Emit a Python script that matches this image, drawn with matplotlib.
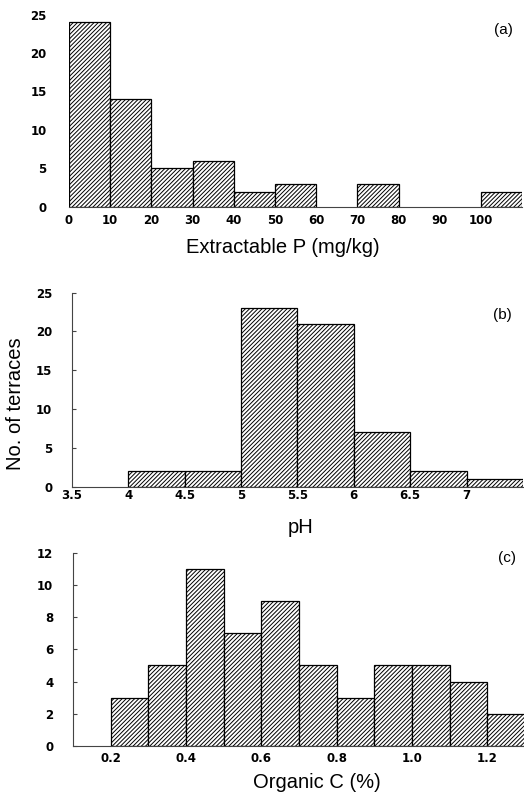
import matplotlib
matplotlib.use("Agg")
import matplotlib.pyplot as plt
import numpy as np

plt.rcParams.update(
    {
        "hatch.linewidth": 0.7,
        "hatch.color": "black",
        "font.family": ["Liberation Sans", "DejaVu Sans"],
    }
)

# (a) extractable P, 10 mg/kg bins
p_edges = [0, 10, 20, 30, 40, 50, 60, 70, 80, 90, 100, 110]
p_counts = [24, 14, 5, 6, 2, 3, 0, 3, 0, 0, 2]
p_ticks = [0, 10, 20, 30, 40, 50, 60, 70, 80, 90, 100]

# (b) pH, 0.5 unit bins
ph_edges = [3.5, 4.0, 4.5, 5.0, 5.5, 6.0, 6.5, 7.0, 7.5]
ph_counts = [0, 2, 2, 23, 21, 7, 2, 1]
ph_ticks = [3.5, 4, 4.5, 5, 5.5, 6, 6.5, 7]
ph_labels = ["3.5", "4", "4.5", "5", "5.5", "6", "6.5", "7"]

# (c) organic C, 0.1 % bins
oc_edges = [0.1, 0.2, 0.3, 0.4, 0.5, 0.6, 0.7, 0.8, 0.9, 1.0, 1.1, 1.2, 1.3]
oc_counts = [0, 3, 5, 11, 7, 9, 5, 3, 5, 5, 4, 2]
oc_ticks = [0.2, 0.4, 0.6, 0.8, 1.0, 1.2]
oc_labels = ["0.2", "0.4", "0.6", "0.8", "1.0", "1.2"]

count_ticks_25 = [0, 5, 10, 15, 20, 25]
count_ticks_12 = [0, 2, 4, 6, 8, 10, 12]

tick_font = dict(family="DejaVu Sans", weight="bold", size=8.5)
label_size = 14.5

fig = plt.figure(figsize=(5.24, 7.93), dpi=100)
ax_a = fig.add_axes([0.1317, 0.739, 0.865, 0.2427])
ax_b = fig.add_axes([0.137, 0.3863, 0.861, 0.2446])
ax_c = fig.add_axes([0.139, 0.0593, 0.8626, 0.2438])


def draw_hist(ax, edges, counts):
    edges = np.asarray(edges, dtype=float)
    counts = np.asarray(counts, dtype=float)
    widths = np.diff(edges)
    keep = counts > 0
    ax.bar(
        edges[:-1][keep],
        counts[keep],
        width=widths[keep],
        align="edge",
        facecolor="white",
        edgecolor="black",
        linewidth=0.9,
        hatch="/" * 8,
    )
    ax.set_xlim(edges[0], edges[-1])
    for side in ("top", "right"):
        ax.spines[side].set_visible(False)
    for side in ("bottom", "left"):
        ax.spines[side].set_color("#444444")
        ax.spines[side].set_linewidth(0.8)
    ax.tick_params(axis="x", length=0)
    ax.tick_params(axis="y", direction="in", length=3, width=0.8, color="#444444", pad=14)


# (a)
draw_hist(ax_a, p_edges, p_counts)
ax_a.set_ylim(0, 25)
ax_a.spines["left"].set_visible(False)
ax_a.tick_params(axis="y", length=0, pad=16)
ax_a.set_yticks(count_ticks_25)
ax_a.set_yticklabels([str(t) for t in count_ticks_25], **tick_font)
ax_a.set_xticks(p_ticks)
ax_a.set_xticklabels([str(t) for t in p_ticks], **tick_font)
ax_a.tick_params(axis="x", pad=5)
ax_a.set_xlabel("Extractable P (mg/kg)", fontsize=label_size)
ax_a.xaxis.set_label_coords(0.472, -0.163)
ax_a.text(0.958, 0.92, "(a)", transform=ax_a.transAxes, ha="center", va="center", fontsize=11)

# (b)
draw_hist(ax_b, ph_edges, ph_counts)
ax_b.set_ylim(0, 25)
ax_b.set_yticks(count_ticks_25)
ax_b.set_yticklabels([str(t) for t in count_ticks_25], **tick_font)
ax_b.set_xticks(ph_ticks)
ax_b.set_xticklabels(ph_labels, **tick_font)
ax_b.tick_params(axis="x", pad=2)
ax_b.set_xlabel("pH", fontsize=label_size)
ax_b.xaxis.set_label_coords(0.506, -0.16)
ax_b.set_ylabel("No. of terraces", fontsize=label_size)
ax_b.yaxis.set_label_coords(-0.103, 0.43)
ax_b.text(0.954, 0.885, "(b)", transform=ax_b.transAxes, ha="center", va="center", fontsize=11)

# (c)
draw_hist(ax_c, oc_edges, oc_counts)
ax_c.set_ylim(0, 12)
ax_c.set_yticks(count_ticks_12)
ax_c.set_yticklabels([str(t) for t in count_ticks_12], **tick_font)
ax_c.set_xticks(oc_ticks)
ax_c.set_xticklabels(oc_labels, **tick_font)
ax_c.tick_params(axis="x", pad=4)
ax_c.set_xlabel("Organic C (%)", fontsize=label_size)
ax_c.xaxis.set_label_coords(0.54, -0.14)
ax_c.text(0.96, 0.973, "(c)", transform=ax_c.transAxes, ha="center", va="center", fontsize=11)

fig.savefig("out.png", dpi=100)
